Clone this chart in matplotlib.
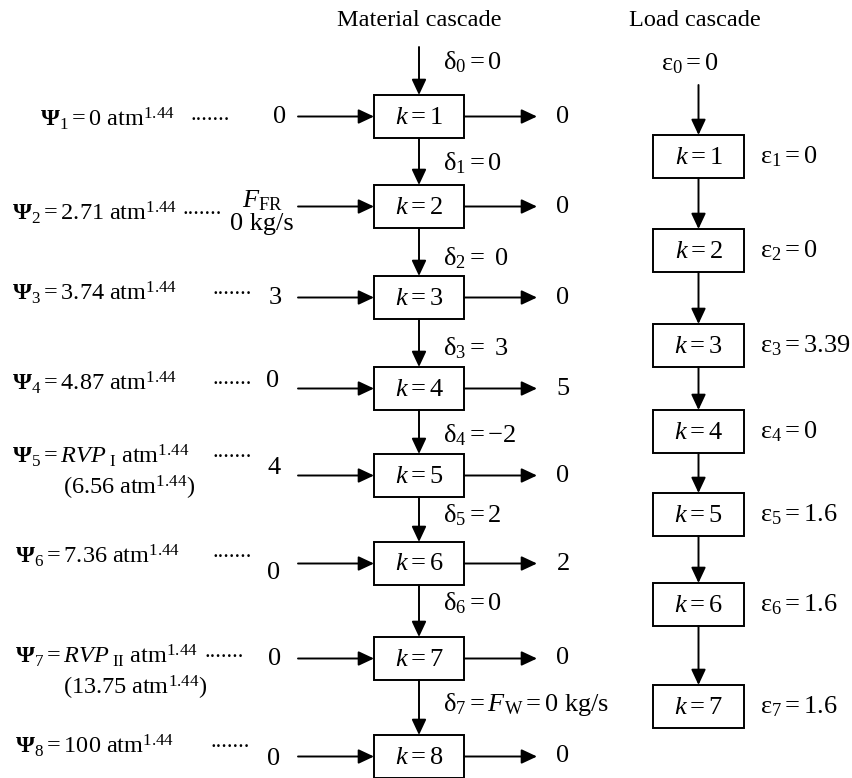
import matplotlib
matplotlib.use('Agg')
import matplotlib.pyplot as plt
from matplotlib.patches import Rectangle

plt.rcParams['font.family'] = ['Liberation Serif', 'DejaVu Serif']
plt.rcParams['mathtext.fontset'] = 'custom'
plt.rcParams['mathtext.rm'] = 'Liberation Serif'
plt.rcParams['mathtext.it'] = 'Liberation Serif:italic'
plt.rcParams['mathtext.bf'] = 'Liberation Serif:bold'

# data
stages = [1, 2, 3, 4, 5, 6, 7, 8]
psi_values = ['0', '2.71', '3.74', '4.87', r'RVP_{\ \mathrm{I}}', '7.36', r'RVP_{\ \mathrm{II}}', '100']
psi_notes = [None, None, None, None, '6.56', None, '13.75', None]
inflows = ['0', None, '3', '0', '4', '0', '0', '0']   # stage 2 is the fresh feed F_FR = 0 kg/s
outflows = [0, 0, 0, 5, 0, 2, 0, 0]
deltas = ['0', '0', '\\ 0', '\\ 3', '-2', '2', '0', r'F_{\mathrm{W}} = 0\ \mathrm{kg/s}']
load_stages = [1, 2, 3, 4, 5, 6, 7]
epsilons = ['0', '0', '0', '3.39', '0', '1.6', '1.6', '1.6']  # eps_0 .. eps_7

# layout (pixel coordinates)
mat_x0, mat_x1 = 374, 464
mat_top = [95, 185, 276, 367, 454, 542, 637, 735]
box_h = 43
load_x0, load_x1 = 653, 744
load_top = [135, 229, 324, 410, 493, 583, 685]
psi_x = [40, 12, 12, 12, 12, 15, 15, 15]
psi_base = [126, 220, 300, 390, 463, 563, 663, 753]
dots_x = [190, 182, 213, 213, 213, 213, 205, 210]
in_x = [280, None, 275, 273, 274, 274, 275, 274]
in_y = [117, None, 298, 381, 468, 573, 659, 759]
delta_y = [62, 163, 258, 348, 435, 515, 603, 704]
FS = 19
PSI_FS = 17.5

fig = plt.figure(figsize=(8.52, 7.78), dpi=100)
ax = fig.add_axes([0, 0, 1, 1])
ax.set_xlim(0, 852)
ax.set_ylim(778, 0)
ax.axis('off')

ARROW = dict(arrowstyle='-|>,head_length=0.47,head_width=0.22', lw=1.4, color='black',
             shrinkA=0, shrinkB=0, mutation_scale=20)


def arrow(x0, y0, x1, y1):
    ax.annotate('', xy=(x1, y1), xytext=(x0, y0), arrowprops=ARROW)


def box(x0, x1, top, label):
    ax.add_patch(Rectangle((x0, top), x1 - x0, box_h, fill=False, lw=1.4, ec='black'))
    ax.text((x0 + x1) / 2, top + box_h / 2 + 1, r'$k = %d$' % label, ha='center', va='center', fontsize=FS)


# material cascade
mx = (mat_x0 + mat_x1) / 2
ax.text(mx, 20, 'Material cascade', ha='center', va='center', fontsize=17.5)
arrow(mx, 47, mx, mat_top[0])
for i, k in enumerate(stages):
    top = mat_top[i]
    cy = top + box_h / 2
    box(mat_x0, mat_x1, top, k)
    if i + 1 < len(stages):
        arrow(mx, top + box_h, mx, mat_top[i + 1])
    # incoming and outgoing streams
    arrow(298, cy, mat_x0, cy)
    arrow(mat_x1, cy, 537, cy)
    ax.text(563, cy, str(outflows[i]), ha='center', va='center', fontsize=FS)
    if inflows[i] is not None:
        ax.text(in_x[i], in_y[i], inflows[i], ha='center', va='center', fontsize=FS)
    else:
        ax.text(262, 207, r'$F_{\mathrm{FR}}$', ha='center', va='baseline', fontsize=FS)
        ax.text(262, 230, '0 kg/s', ha='center', va='baseline', fontsize=FS)
    # interval pressure labels
    ax.text(psi_x[i], psi_base[i], r'$\mathbf{\Psi}_%d = %s\ \mathrm{atm}^{1.44}$' % (k, psi_values[i]),
            ha='left', va='baseline', fontsize=PSI_FS)
    ax.text(dots_x[i], psi_base[i] - 6, '.......', ha='left', va='baseline', fontsize=16)
    if psi_notes[i] is not None:
        ax.text(63, psi_base[i] + 32, r'$(%s\ \mathrm{atm}^{1.44})$' % psi_notes[i],
                ha='left', va='baseline', fontsize=PSI_FS)
    ax.text(443, delta_y[i], r'$\mathrm{\delta}_%d = %s$' % (i, deltas[i]), ha='left', va='center', fontsize=FS)

# load cascade
lx = (load_x0 + load_x1) / 2
ax.text(695, 20, 'Load cascade', ha='center', va='center', fontsize=17.5)
ax.text(690, 64, r'$\mathrm{\varepsilon}_0 = %s$' % epsilons[0], ha='center', va='center', fontsize=FS)
arrow(lx, 85, lx, load_top[0])
for i, k in enumerate(load_stages):
    top = load_top[i]
    box(load_x0, load_x1, top, k)
    if i + 1 < len(load_stages):
        arrow(lx, top + box_h, lx, load_top[i + 1])
    ax.text(760, top + box_h / 2, r'$\mathrm{\varepsilon}_%d = %s$' % (k, epsilons[k]),
            ha='left', va='center', fontsize=FS)

fig.savefig('out.png', dpi=100)
